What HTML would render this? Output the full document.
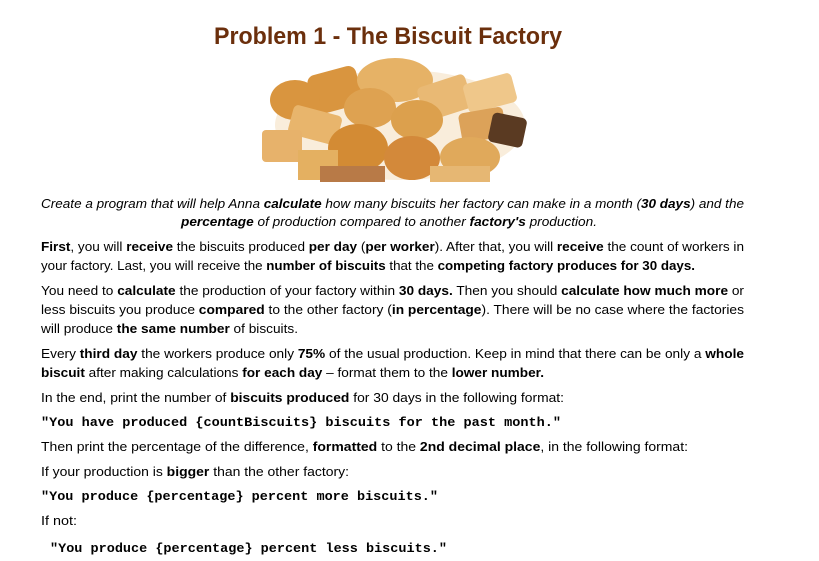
<!DOCTYPE html>
<html><head><meta charset="utf-8"><style>
html,body{margin:0;padding:0;background:#fff;width:819px;height:561px;overflow:hidden}
svg{display:block}
.t{font-family:"Liberation Sans",sans-serif;font-size:13px;fill:#000}
.i{font-style:italic}
.b{font-weight:bold}
.c{font-family:"Liberation Mono",monospace;font-size:13px;font-weight:bold;fill:#000}
</style></head><body>
<svg width="819" height="561">
<text x="214" y="44" textLength="348" lengthAdjust="spacingAndGlyphs" style="font-family:'Liberation Sans',sans-serif;font-size:24px;font-weight:bold;fill:#6b2f0c">Problem 1 - The Biscuit Factory</text>
<g>
<ellipse cx="400" cy="125" rx="125" ry="55" fill="#f3dcb8" opacity="0.5"/>
<rect x="310" y="70" width="50" height="40" rx="8" fill="#d9953f" transform="rotate(-15 335 90)"/>
<ellipse cx="395" cy="80" rx="38" ry="22" fill="#e6b266"/>
<rect x="420" y="80" width="50" height="35" rx="5" fill="#e9b974" transform="rotate(-18 445 97)"/>
<rect x="465" y="78" width="50" height="30" rx="5" fill="#efc78a" transform="rotate(-15 490 93)"/>
<ellipse cx="295" cy="100" rx="25" ry="20" fill="#d9953f"/>
<ellipse cx="370" cy="108" rx="26" ry="20" fill="#dea251"/>
<ellipse cx="417" cy="120" rx="26" ry="20" fill="#dca04d"/>
<rect x="290" y="110" width="50" height="30" rx="5" fill="#e8b56c" transform="rotate(15 315 125)"/>
<rect x="460" y="110" width="45" height="30" rx="5" fill="#dca259" transform="rotate(-10 482 125)"/>
<rect x="490" y="115" width="35" height="30" rx="5" fill="#5a3a22" transform="rotate(12 507 130)"/>
<rect x="262" y="130" width="40" height="32" rx="4" fill="#e7b26b"/>
<ellipse cx="358" cy="148" rx="30" ry="24" fill="#d38b34"/>
<ellipse cx="412" cy="158" rx="28" ry="22" fill="#d3893a"/>
<ellipse cx="470" cy="157" rx="30" ry="20" fill="#e0a95b"/>
<rect x="298" y="150" width="40" height="30" fill="#e4b061"/>
<rect x="320" y="166" width="65" height="16" fill="#b87a47"/>
<rect x="430" y="166" width="60" height="16" fill="#e6b773"/>
</g>
<text class="t i" x="41" y="208" textLength="703" lengthAdjust="spacingAndGlyphs">Create a program that will help Anna <tspan class="b">calculate</tspan> how many biscuits her factory can make in a month (<tspan class="b">30 days</tspan>) and the</text>
<text class="t i" x="181" y="226" textLength="416" lengthAdjust="spacingAndGlyphs"><tspan class="b">percentage</tspan> of production compared to another <tspan class="b">factory's</tspan> production.</text>
<text class="t" x="41" y="251" textLength="703" lengthAdjust="spacingAndGlyphs"><tspan class="b">First</tspan>, you will <tspan class="b">receive</tspan> the biscuits produced <tspan class="b">per day</tspan> (<tspan class="b">per worker</tspan>). After that, you will <tspan class="b">receive</tspan> the count of workers in</text>
<text class="t" x="41" y="270" textLength="654" lengthAdjust="spacingAndGlyphs">your factory. Last, you will receive the <tspan class="b">number of biscuits</tspan> that the <tspan class="b">competing factory produces for 30 days.</tspan></text>
<text class="t" x="41" y="295" textLength="703" lengthAdjust="spacingAndGlyphs">You need to <tspan class="b">calculate</tspan> the production of your factory within <tspan class="b">30 days.</tspan> Then you should <tspan class="b">calculate how much more</tspan> or</text>
<text class="t" x="41" y="314" textLength="703" lengthAdjust="spacingAndGlyphs">less biscuits you produce <tspan class="b">compared</tspan> to the other factory (<tspan class="b">in percentage</tspan>). There will be no case where the factories</text>
<text class="t" x="41" y="333" textLength="257" lengthAdjust="spacingAndGlyphs">will produce <tspan class="b">the same number</tspan> of biscuits.</text>
<text class="t" x="41" y="358" textLength="703" lengthAdjust="spacingAndGlyphs">Every <tspan class="b">third day</tspan> the workers produce only <tspan class="b">75%</tspan> of the usual production. Keep in mind that there can be only a <tspan class="b">whole</tspan></text>
<text class="t" x="41" y="377" textLength="503" lengthAdjust="spacingAndGlyphs"><tspan class="b">biscuit</tspan> after making calculations <tspan class="b">for each day</tspan> – format them to the <tspan class="b">lower number.</tspan></text>
<text class="t" x="41" y="402" textLength="523" lengthAdjust="spacingAndGlyphs">In the end, print the number of <tspan class="b">biscuits produced</tspan> for 30 days in the following format:</text>
<text class="c" x="41" y="426" textLength="520" lengthAdjust="spacingAndGlyphs">"You have produced {countBiscuits} biscuits for the past month."</text>
<text class="t" x="41" y="451" textLength="647" lengthAdjust="spacingAndGlyphs">Then print the percentage of the difference, <tspan class="b">formatted</tspan> to the <tspan class="b">2nd decimal place</tspan>, in the following format:</text>
<text class="t" x="41" y="476" textLength="308" lengthAdjust="spacingAndGlyphs">If your production is <tspan class="b">bigger</tspan> than the other factory:</text>
<text class="c" x="41" y="500" textLength="397" lengthAdjust="spacingAndGlyphs">"You produce {percentage} percent more biscuits."</text>
<text class="t" x="41" y="525" textLength="36" lengthAdjust="spacingAndGlyphs">If not:</text>
<text class="c" x="50" y="552" textLength="397" lengthAdjust="spacingAndGlyphs">"You produce {percentage} percent less biscuits."</text>
</svg>
</body></html>
